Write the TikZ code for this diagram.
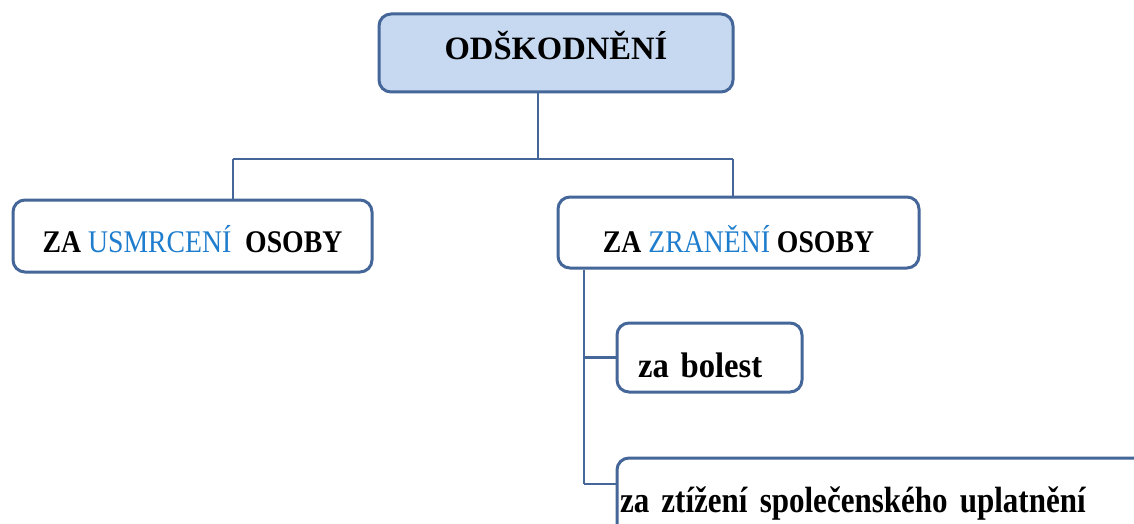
\documentclass[tikz,border=0pt]{standalone}
\usepackage{fontspec}
\setmainfont{Liberation Serif}
\newfontfamily\condA[FakeStretch=0.88]{Liberation Serif}
\newfontfamily\condB[FakeStretch=0.92,WordSpace=0.6]{Liberation Serif}
\newfontfamily\condC[FakeStretch=0.85,WordSpace=0.6]{Liberation Serif}
\definecolor{edge}{RGB}{68,102,152}
\definecolor{topfill}{RGB}{198,217,240}
\definecolor{hl}{RGB}{30,125,205}
\tikzset{
  box/.style={draw=edge, line width=3pt, rounded corners=12pt, fill=white, inner sep=0pt, font=\bfseries},
  conn/.style={draw=edge, line width=2.4pt},
}
\begin{document}
\begin{tikzpicture}[x=1pt,y=-1pt]
\useasboundingbox (0,0) rectangle (1134,524);
\coordinate (j) at (538,159);
\coordinate (jl) at (233,159);
\coordinate (jr) at (733,159);
\coordinate (t) at (584,484);
% boxes
\node[box, fill=topfill, minimum width=354, minimum height=78, text height=20, text depth=6, font=\fontsize{32.6}{36}\selectfont\bfseries] (top) at (556,53) {ODŠKODNĚNÍ};
\node[box, minimum width=359, minimum height=72, text height=32, text depth=0, font=\condA\fontsize{31.5}{34}\selectfont\bfseries] (usm) at (192.5,236) {ZA \textcolor{hl}{\mdseries USMRCENÍ}\ \ OSOBY};
\node[box, minimum width=361, minimum height=71, text height=39, text depth=0, font=\condA\fontsize{31.5}{34}\selectfont\bfseries] (zra) at (738.5,232.5) {ZA \textcolor{hl}{\mdseries ZRANĚNÍ} OSOBY};
\node[box, minimum width=185, minimum height=69, text height=39, text depth=0, inner xsep=21pt, text width=143pt, align=left, font=\condB\fontsize{35.5}{38}\selectfont\bfseries] (bol) at (709.5,357.5) {za bolest};
\node[box, minimum width=533, minimum height=90, text height=18, text depth=0, inner xsep=3pt, text width=527pt, align=left, font=\condC\fontsize{36.5}{40}\selectfont\bfseries] (ztz) at (883.5,503) {za ztížení společenského uplatnění};
% connectors
\draw[conn] (top.south -| j) -- (j);
\draw[conn] (jl) -- (jr);
\draw[conn] (jl) -- (usm.north -| jl);
\draw[conn] (jr) -- (zra.north -| jr);
\draw[conn] (zra.south -| t) -- (t);
\draw[conn] (bol.west -| t) -- (bol.west);
\draw[conn] (t) -- (t -| ztz.west);
\end{tikzpicture}
\end{document}
